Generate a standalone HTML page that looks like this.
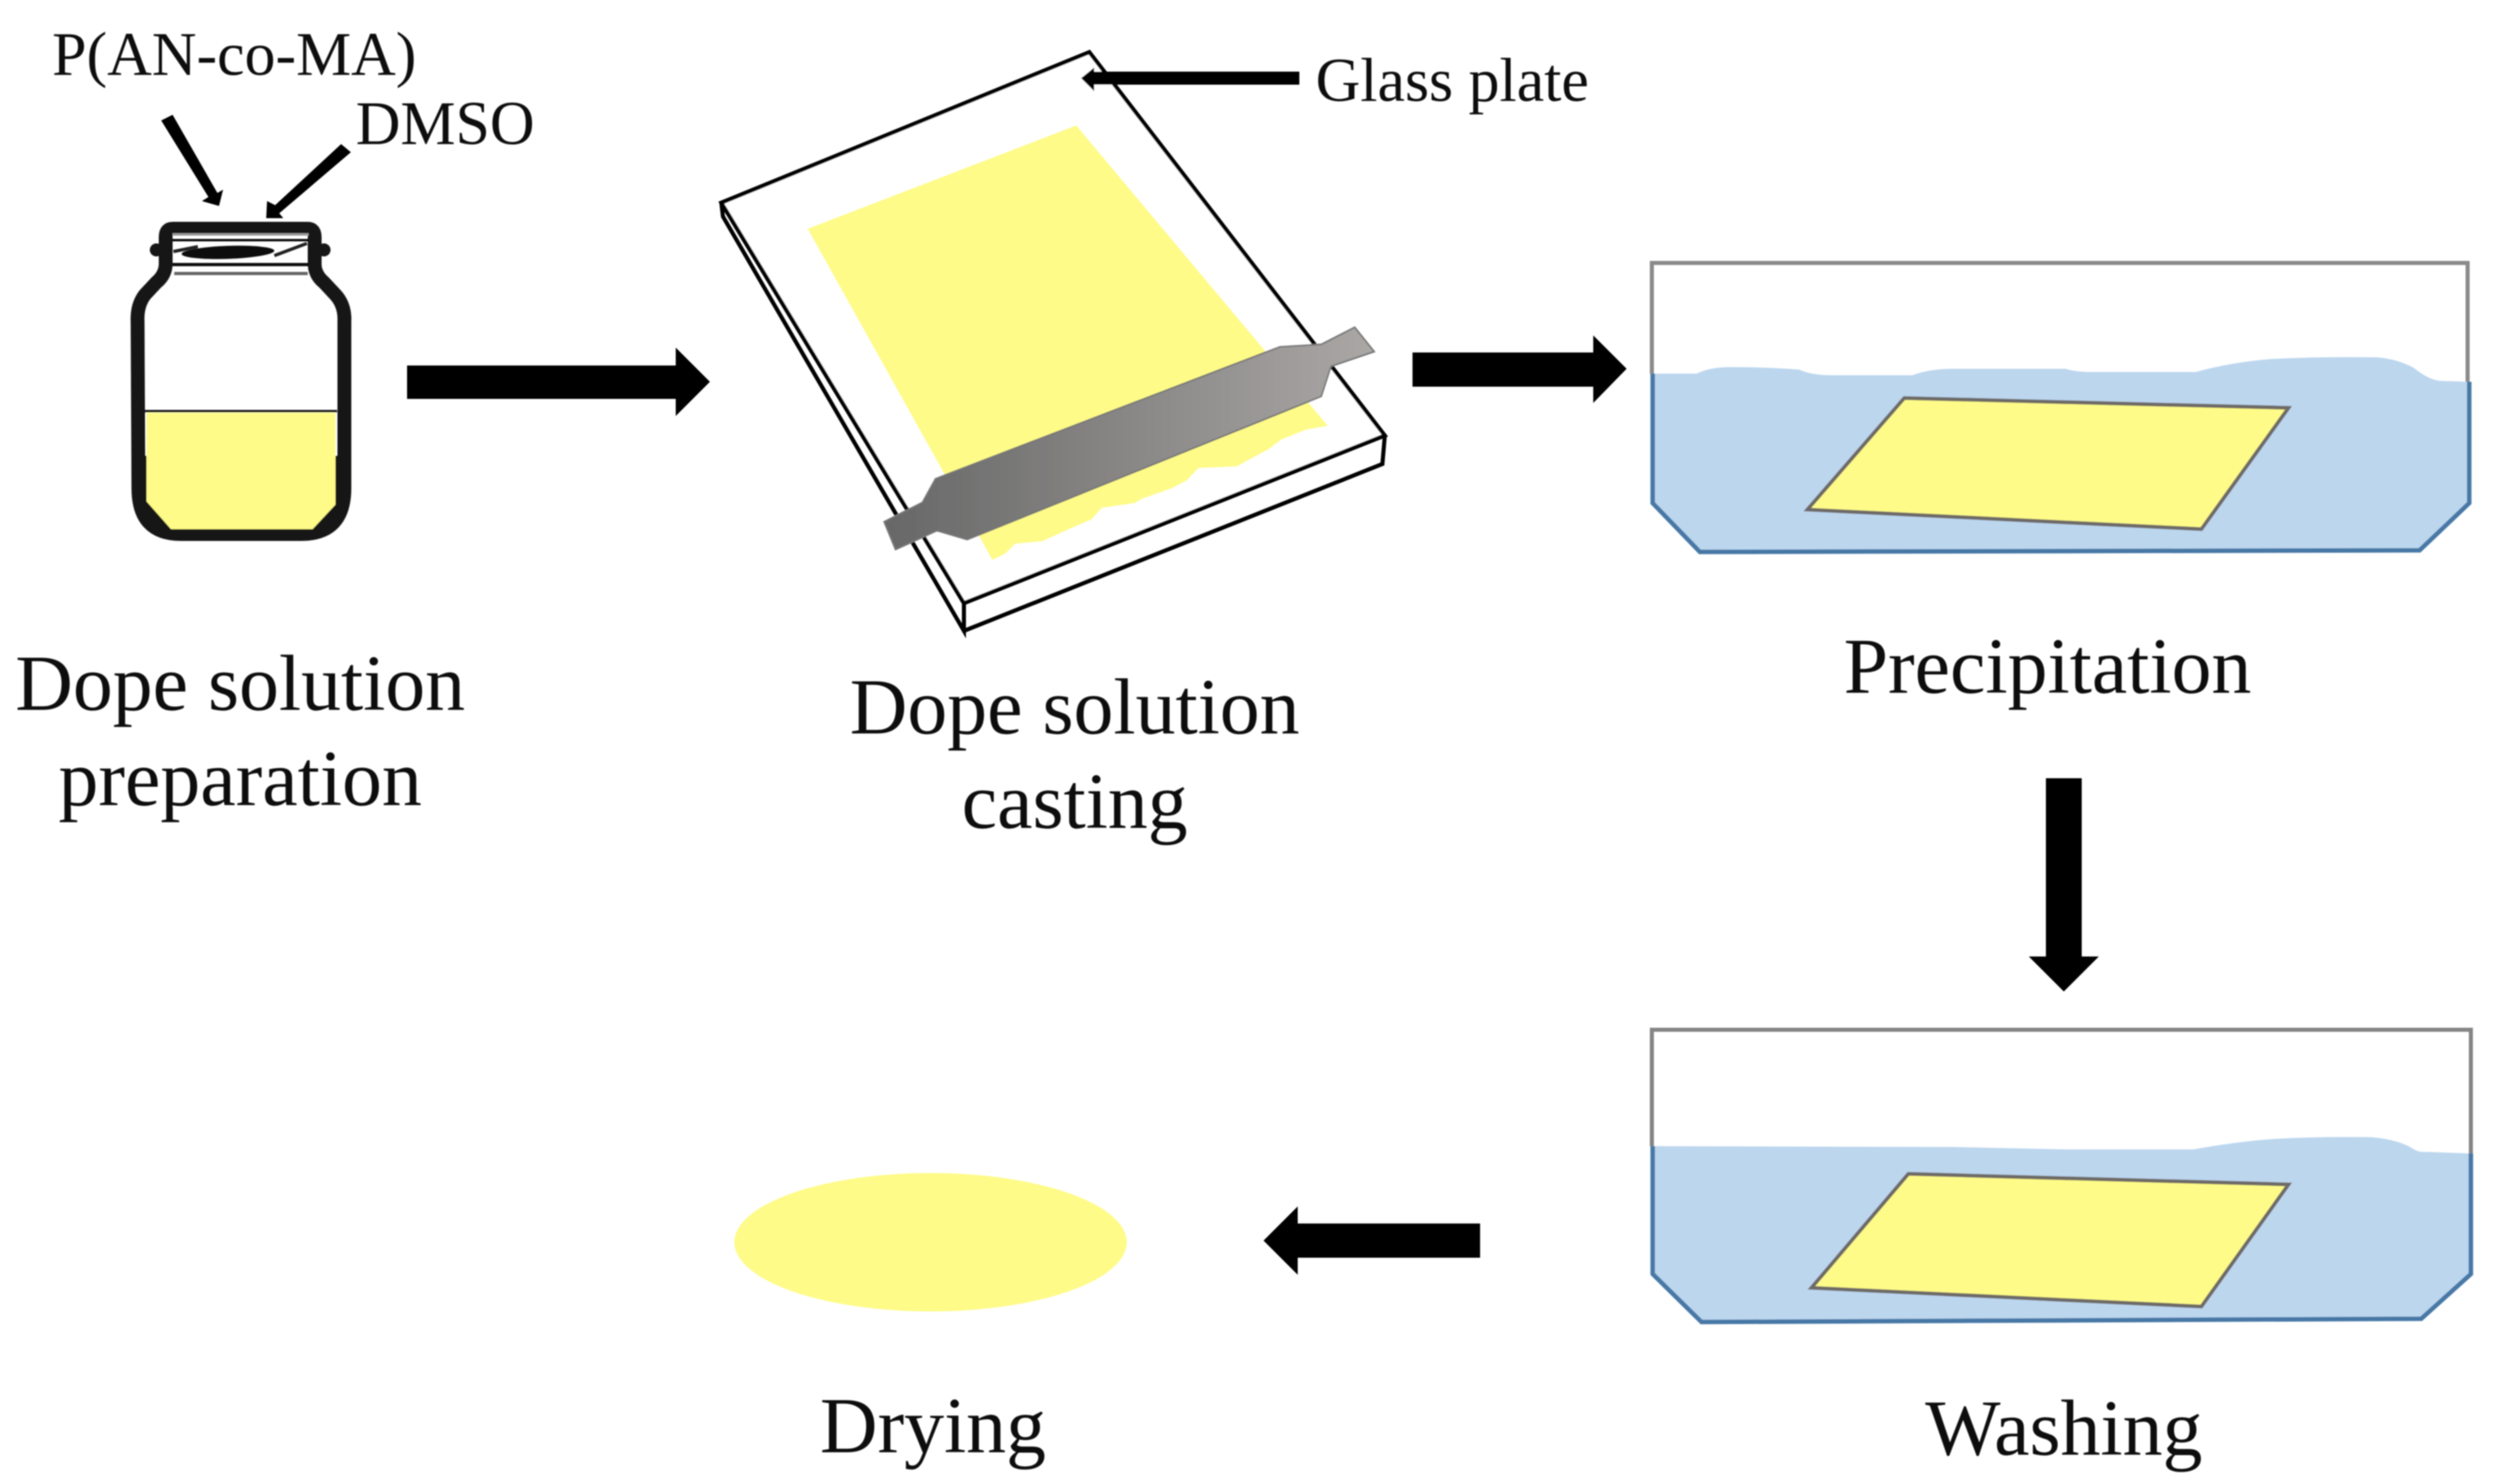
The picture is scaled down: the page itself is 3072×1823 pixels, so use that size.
<!DOCTYPE html>
<html><head><meta charset="utf-8"><style>html,body{margin:0;padding:0;background:#fff;width:3072px;height:1823px;overflow:hidden}svg{display:block}text{font-family:"Liberation Serif",serif;fill:#0d0d0d}</style></head><body>
<svg width="3072" height="1823" viewBox="0 0 3072 1823" xmlns="http://www.w3.org/2000/svg">
<defs>
<linearGradient id="g" x1="0" x2="1" y1="0" y2="0"><stop offset="0" stop-color="#676767"/><stop offset="1" stop-color="#aaa7a5"/></linearGradient>
<filter id="b" x="-2%" y="-2%" width="104%" height="104%"><feGaussianBlur stdDeviation="0.9"/></filter>
</defs>
<g filter="url(#b)">
<!-- jar -->
<path d="M169 560V600Q170 656 222 656H370Q423 656 423 600V560Z" fill="#141414"/>
<path d="M203.5 325Q203 338 192 347L178 362Q168 375 169 395L170 600Q170 656 222 656H370Q423 656 423 600L423 395Q424 375 412 362L398 347Q387 338 386.5 325V291Q386.5 281 378 281H212Q203.5 281 203.500 291Z" fill="none" stroke="#141414" stroke-width="17" stroke-linejoin="round"/>
<path d="M180 507H412V620L384 650H210L180 616Z" fill="#fefb88"/>
<path d="M178 505H414" stroke="#222" stroke-width="3" fill="none"/>
<circle cx="192" cy="307" r="8" fill="#141414"/><circle cx="398" cy="307" r="8" fill="#141414"/>
<path d="M212 288H379" stroke="#999" stroke-width="3" fill="none"/>
<path d="M212 295H379" stroke="#111" stroke-width="3" fill="none"/>
<path d="M212 325H379" stroke="#111" stroke-width="4" fill="none"/>
<path d="M214 336H378" stroke="#666" stroke-width="4" fill="none"/>
<ellipse cx="280" cy="310" rx="57" ry="8" fill="#111" transform="rotate(-2 280 310)"/>
<path d="M213 309L243 303M337 314L377 299" stroke="#222" stroke-width="4"/>
<!-- small arrows -->
<path d="M198 148L212 141L267 237L274 233L269 253L248 247L256 242Z" fill="#000"/>
<path d="M419 177L431 187L343 262L348 268L327 268L328 247L338 252Z" fill="#000"/>
<!-- big arrow 1 -->
<path d="M500 449H830V427L872 469L830 511V490H500Z" fill="#000"/>
<!-- glass plate -->
<path d="M886 249L1338 64L1701 535L1184 741Z" fill="#fff" stroke="#000" stroke-width="5" stroke-linejoin="miter"/>
<path d="M886 249L888 266L1184 775V741M1184 775L1698 570L1701 535" fill="none" stroke="#000" stroke-width="5"/>
<path d="M1322 154L992 281L1219 688L1235 680L1247 668L1280 665L1313 650L1341 638L1353 624L1394 618L1402 613L1439 600L1458 590L1472 575L1519 573L1558 552L1574 540L1604 528L1631 523Z" fill="#fefb88"/>
<path d="M1664 402L1688 432L1635 450L1623 487L1188 663L1151 652L1100 675L1086 641L1133 617L1149 588L1572 426L1623 423Z" fill="url(#g)" stroke="#777" stroke-width="2"/>
<!-- glass arrow -->
<path d="M1596 88V104H1344V112L1328 96L1344 83V88Z" fill="#000"/>
<!-- arrow 2 -->
<path d="M1735 433H1957V412L1998 453L1957 495V475H1735Z" fill="#000"/>
<!-- tank 1 -->
<path d="M2029 459V323H3031V469" fill="none" stroke="#8a8a8a" stroke-width="5"/>
<path d="M2029 459H2084Q2100 451 2125 451Q2170 451 2210 454Q2225 461 2250 461H2349Q2370 453 2400 453H2537Q2550 457 2570 457H2697Q2740 445 2790 441Q2850 438 2920 439Q2945 441 2965 452Q2985 468 3000 468L3033 469V618L2972 676L2088 678L2030 618Z" fill="#bcd6ee"/>
<path d="M2030 459V618L2088 678L2972 676L3033 618V469" fill="none" stroke="#4678a6" stroke-width="5.500"/>
<path d="M2339 489L2811 501L2704 650L2220 626Z" fill="#fefb88" stroke="#6e6a68" stroke-width="4.500"/>
<!-- down arrow -->
<path d="M2513 956H2557V1175H2578L2535 1218L2492 1175H2513Z" fill="#000"/>
<!-- tank 2 -->
<path d="M2029 1408V1265H3035V1417" fill="none" stroke="#858585" stroke-width="5"/>
<path d="M2029 1408L2398 1409L2537 1412H2694Q2750 1402 2795 1399Q2850 1396 2913 1397Q2945 1400 2962 1410Q2970 1416 2980 1415L3035 1417V1565L2974 1620L2090 1624L2030 1565Z" fill="#bcd6ee"/>
<path d="M2030 1408V1565L2090 1624L2974 1620L3035 1565V1417" fill="none" stroke="#4678a6" stroke-width="5.500"/>
<path d="M2344 1442L2811 1455L2704 1605L2225 1582Z" fill="#fefb88" stroke="#6e6a68" stroke-width="4.500"/>
<!-- left arrow -->
<path d="M1818 1503V1545H1594V1566L1552 1524L1594 1482V1503Z" fill="#000"/>
<!-- ellipse -->
<ellipse cx="1143" cy="1526" rx="241" ry="85" fill="#fefb88"/>
<!-- text -->
<text x="64" y="92" font-size="76">P(AN-co-MA)</text>
<text x="437" y="177" font-size="76">DMSO</text>
<text x="1616" y="124" font-size="76">Glass plate</text>
<text x="295" y="872" font-size="98" text-anchor="middle">Dope solution</text>
<text x="295" y="989" font-size="98" text-anchor="middle">preparation</text>
<text x="1320" y="901" font-size="98" text-anchor="middle">Dope solution</text>
<text x="1320" y="1017" font-size="98" text-anchor="middle">casting</text>
<text x="2515" y="851" font-size="98" text-anchor="middle">Precipitation</text>
<text x="2535" y="1787" font-size="98" text-anchor="middle">Washing</text>
<text x="1146" y="1784" font-size="98" text-anchor="middle">Drying</text>
</g>
</svg>
</body></html>
